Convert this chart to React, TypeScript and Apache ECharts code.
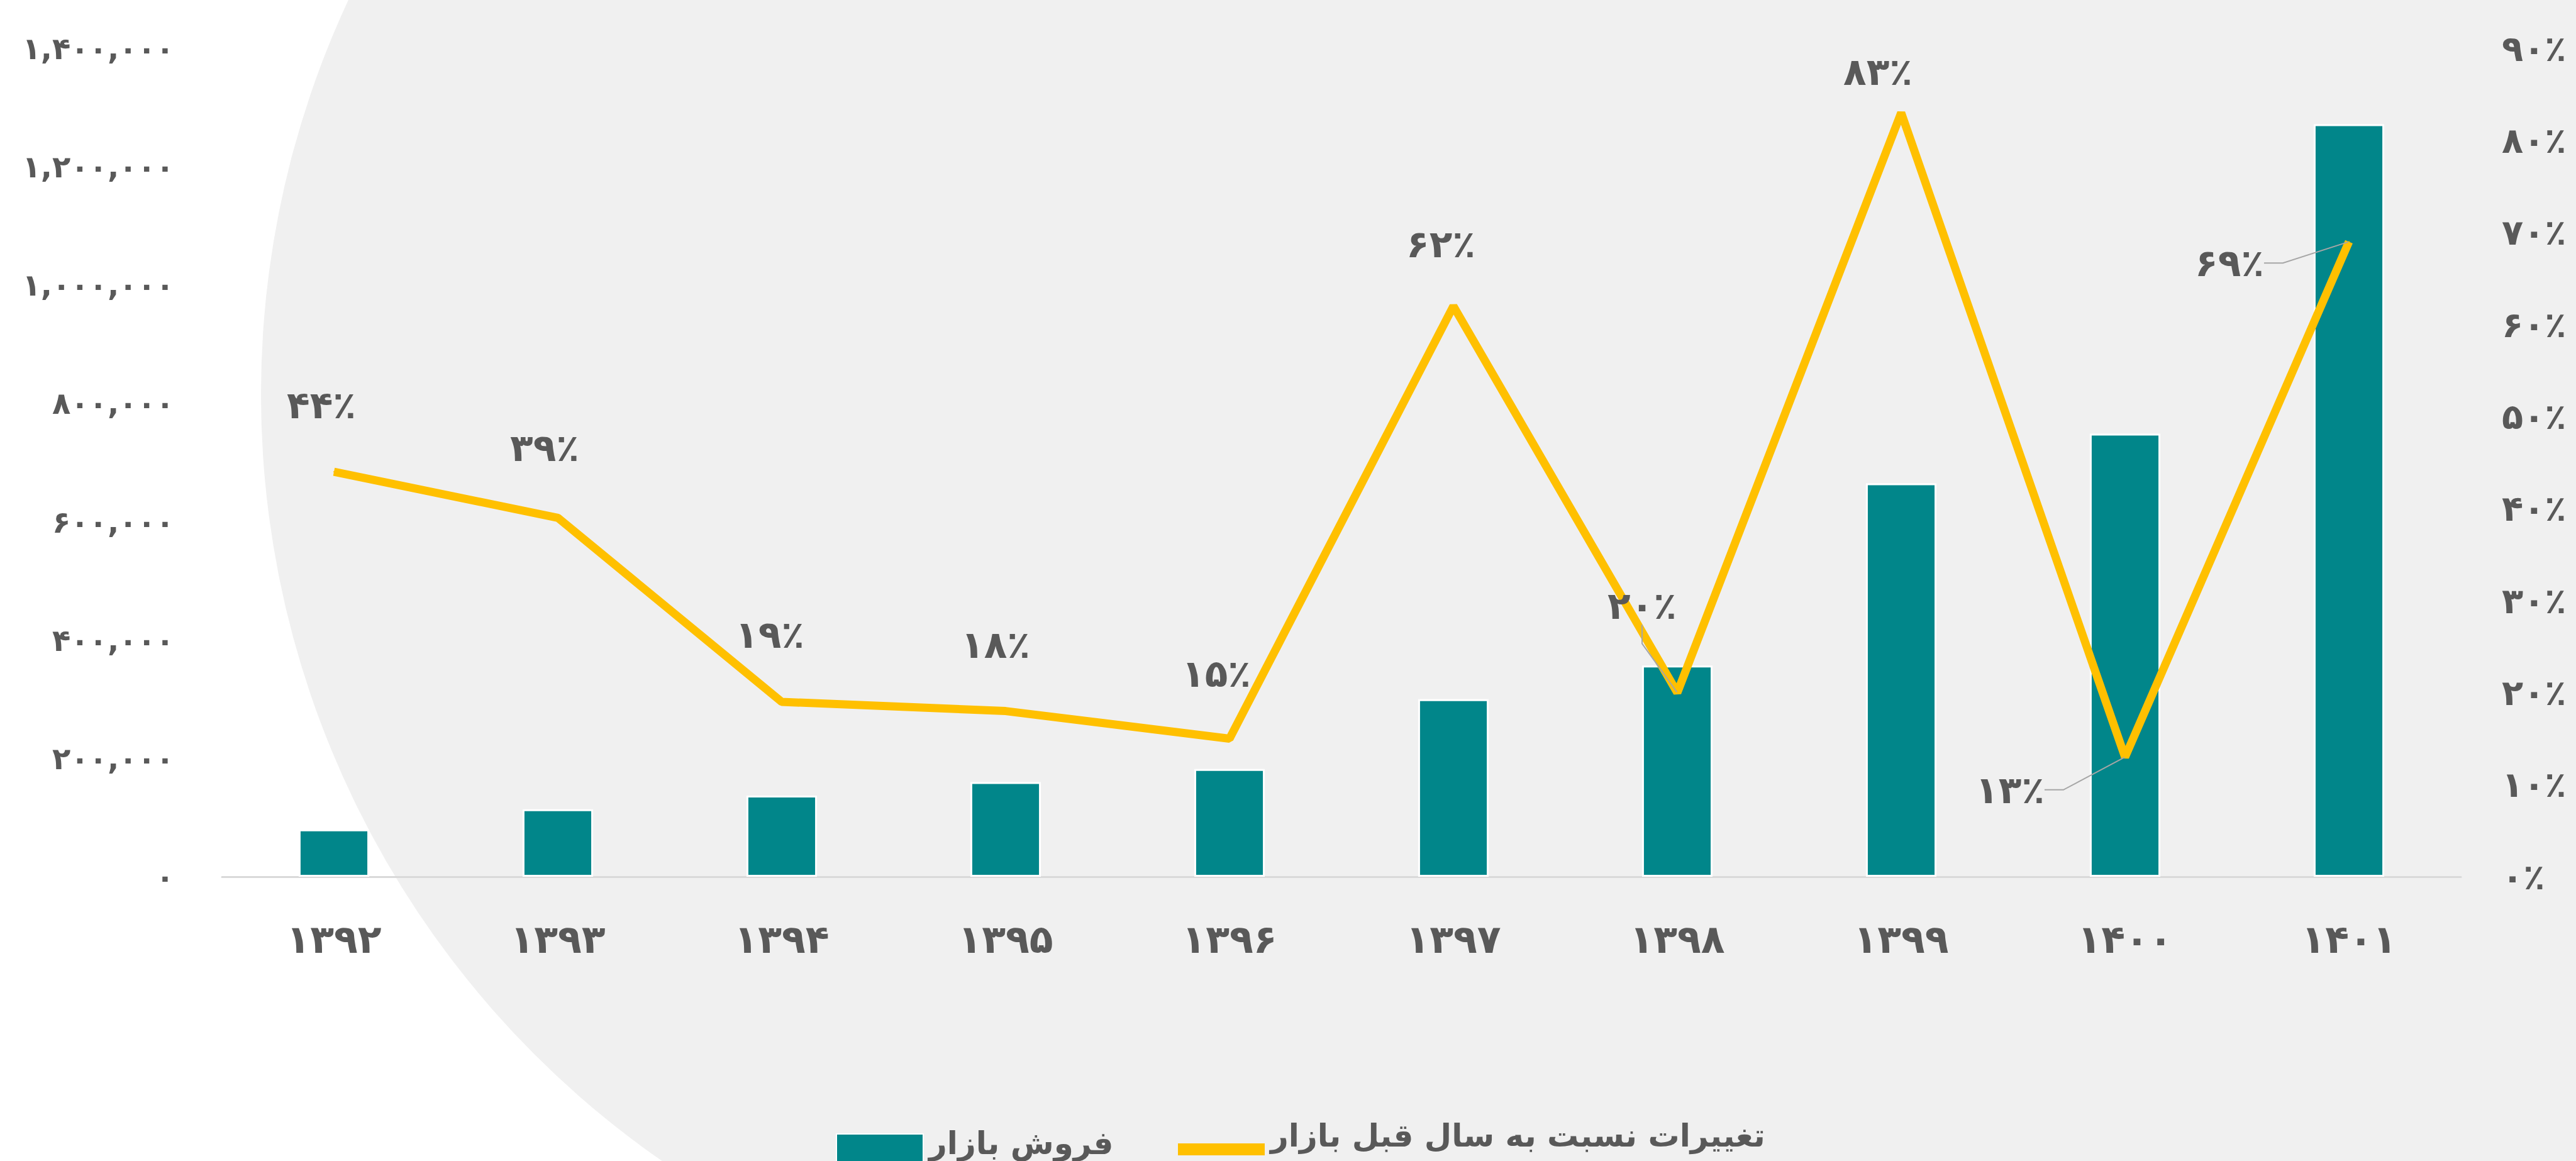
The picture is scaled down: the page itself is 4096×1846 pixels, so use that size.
import React, { useEffect, useRef } from 'react';
import * as echarts from 'echarts';

// ---- data ----
const CATEGORIES = ['۱۳۹۲', '۱۳۹۳', '۱۳۹۴', '۱۳۹۵', '۱۳۹۶', '۱۳۹۷', '۱۳۹۸', '۱۳۹۹', '۱۴۰۰', '۱۴۰۱'];
const SALES = [80000, 114000, 137000, 160000, 182000, 300000, 357000, 665000, 749000, 1272000];
const CHANGE_PCT = [44, 39, 19, 18, 15, 62, 20, 83, 13, 69];
const SALES_AXIS = { min: 0, max: 1400000, interval: 200000 };
const PCT_AXIS = { min: 0, max: 90, interval: 10 };
const SERIES_NAMES = ['فروش بازار', 'تغییرات نسبت به سال قبل بازار'];
const LEADER_LINE_INDEXES = [6, 8, 9];

// ---- layout / style ----
const W = 4096;
const H = 1846;
const TEXT = '#595959';
const TEAL = '#01868a';
const GOLD = '#FFC000';
const BG = '#F0F0F0';
const FONT = '"DejaVu Sans", sans-serif';
const LABEL_OFFSETS = [
  [-20, -106], [-21, -111], [-19, -107], [-16, -106], [-21, -104],
  [-20, -99], [-56, -138], [-37, -65], [-183, 52], [-190, 34],
];

const FA_DIGITS = '۰۱۲۳۴۵۶۷۸۹';
const toFa = (s: string) => s.replace(/\d/g, (d) => FA_DIGITS[+d]);

export default function App() {
  const ref = useRef<HTMLDivElement>(null);
  useEffect(() => {
    const chart = echarts.init(ref.current!, null, { renderer: 'svg', width: W, height: H });
    const lineData = CHANGE_PCT.map((v, i) =>
      LEADER_LINE_INDEXES.includes(i)
        ? { value: v, labelLine: { show: true, length2: 30, lineStyle: { color: '#a6a6a6', width: 2 } } }
        : v
    );
    const legendText = { color: TEXT, fontSize: 50, fontWeight: 'bold', fontFamily: FONT, padding: [0, 0, 0, 4] };
    const option: any = {
      animation: false,
      graphic: {
        elements: [
          { type: 'rect', silent: true, z: -100, shape: { x: 0, y: 0, width: W, height: H }, style: { fill: BG } },
          { type: 'rect', silent: true, z: -99, shape: { x: 0, y: 0, width: 1899, height: H }, style: { fill: '#ffffff' } },
          { type: 'circle', silent: true, z: -98, shape: { cx: 1899, cy: 627, r: 1484 }, style: { fill: BG } },
        ],
      },
      grid: { left: 353, right: 183, top: 77, bottom: 452, containLabel: false },
      legend: [
        {
          data: [SERIES_NAMES[0]],
          left: 1324,
          top: 1769,
          icon: 'path://M0,0M0,28L138,28L138,86L0,86Z',
          itemWidth: 138,
          itemHeight: 86,
          itemGap: 0,
          textStyle: legendText,
        },
        {
          data: [SERIES_NAMES[1]],
          left: 1868,
          top: 1769,
          icon: 'path://M0,0M0,44L138,44L138,63L0,63Z',
          itemWidth: 138,
          itemHeight: 86,
          itemGap: 0,
          textStyle: legendText,
        },
      ],
      xAxis: {
        type: 'category',
        data: CATEGORIES,
        axisLine: { lineStyle: { color: '#d9d9d9', width: 3 } },
        axisTick: { show: false },
        axisLabel: { margin: 68, color: TEXT, fontSize: 62, fontWeight: 'bold', fontFamily: FONT },
      },
      yAxis: [
        {
          type: 'value',
          ...SALES_AXIS,
          splitLine: { show: false },
          axisLine: { show: false },
          axisTick: { show: false },
          axisLabel: {
            margin: 76,
            color: TEXT,
            fontSize: 48,
            fontWeight: 'bold',
            fontFamily: FONT,
            formatter: (v: number) => toFa(v.toLocaleString('en-US')),
          },
        },
        {
          type: 'value',
          position: 'right',
          ...PCT_AXIS,
          splitLine: { show: false },
          axisLine: { show: false },
          axisTick: { show: false },
          axisLabel: {
            margin: 65,
            color: TEXT,
            fontSize: 56,
            fontWeight: 'bold',
            fontFamily: FONT,
            formatter: (v: number) => toFa(String(v)) + '٪',
          },
        },
      ],
      series: [
        {
          name: SERIES_NAMES[0],
          type: 'bar',
          yAxisIndex: 0,
          data: SALES,
          barWidth: '31.5%',
          itemStyle: { color: TEAL, borderColor: '#ffffff', borderWidth: 3 },
        },
        {
          name: SERIES_NAMES[1],
          type: 'line',
          yAxisIndex: 1,
          data: lineData,
          symbol: 'circle',
          symbolSize: 2,
          itemStyle: { color: GOLD },
          lineStyle: { color: GOLD, width: 13 },
          label: {
            show: true,
            position: 'inside',
            color: TEXT,
            fontSize: 60,
            fontWeight: 'bold',
            fontFamily: FONT,
            formatter: (p: any) => toFa(String(p.value)) + '٪',
          },
          labelLayout: (p: any) => ({ dx: LABEL_OFFSETS[p.dataIndex][0], dy: LABEL_OFFSETS[p.dataIndex][1], hideOverlap: false }),
          z: 3,
        },
      ],
    };
    chart.setOption(option);
    return () => chart.dispose();
  }, []);
  return <div ref={ref} style={{ position: 'fixed', left: 0, top: 0, width: W, height: H }} />;
}
